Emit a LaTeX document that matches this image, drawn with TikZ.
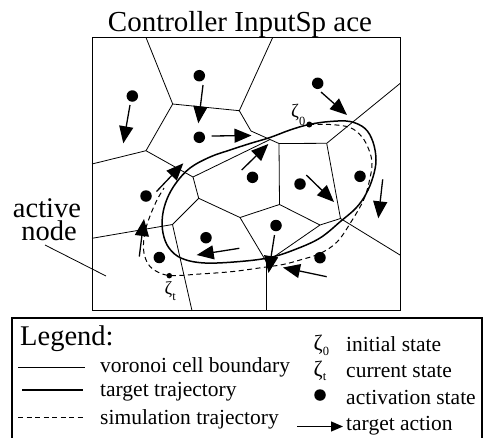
\documentclass[tikz,border=0pt]{standalone}
\usepackage{fontspec}
\setmainfont{Liberation Serif}
\usetikzlibrary{arrows.meta}

\tikzset{
  cell/.style={line width=0.8pt},
  frame/.style={line width=1pt},
  traj/.style={line width=1.5pt},
  simtraj/.style={line width=1pt, dash pattern=on 5pt off 3.5pt},
  act/.style={line width=1.3pt, -{Triangle[length=17pt,width=14pt]}},
  legact/.style={line width=1.2pt, -{Triangle[length=12pt,width=10pt]}},
  state/.style={circle, fill=black, inner sep=0pt, minimum size=11.5pt},
  zdot/.style={circle, fill=black, inner sep=0pt, minimum size=6pt},
  big/.style={inner sep=0pt, anchor=base, font=\fontsize{28.5}{28.5}\selectfont},
  small/.style={inner sep=0pt, anchor=base west, font=\fontsize{21.5}{24}\selectfont},
}

\begin{document}
\begin{tikzpicture}[x=1pt,y=-1pt]
\useasboundingbox (0,0) rectangle (484,437);

% title
\node[inner sep=0pt, anchor=base, font=\fontsize{29}{29}\selectfont] (title) at (240,31.7) {Controller InputSp ace};

% frame of the input space
\draw[frame] (92,37.5) rectangle (400,310.7);

% voronoi vertices
\coordinate (A) at (146,37.5);
\coordinate (B) at (172.7,104);
\coordinate (C) at (239.3,110.7);
\coordinate (D) at (272.7,37.5);
\coordinate (E) at (146,150.7);
\coordinate (F) at (92,164);
\coordinate (G) at (251,131);
\coordinate (W) at (270,139.5);
\coordinate (H) at (279,143.5);
\coordinate (I) at (326.7,143.3);
\coordinate (J) at (400,83.5);
\coordinate (K) at (193,177);
\coordinate (L) at (198.7,198.3);
\coordinate (M) at (240,217.5);
\coordinate (N) at (279.5,204.5);
\coordinate (O) at (320,225);
\coordinate (P) at (340.5,218.5);
\coordinate (Q) at (400,255);
\coordinate (R) at (172.5,224.5);
\coordinate (S) at (92,238.3);
\coordinate (T) at (192,310.7);
\coordinate (U) at (266.5,262);
\coordinate (V) at (266.5,310.7);

% voronoi cell boundaries
\draw[cell] (A) -- (B) -- (C) -- (D);
\draw[cell] (B) -- (E) -- (F);
\draw[cell] (E) -- (K) -- (W);
\draw[cell] (C) -- (G) -- (H) -- (I) -- (J);
\draw[cell] (H) -- (N);
\draw[cell] (I) -- (P) -- (Q);
\draw[cell] (K) -- (L) -- (M) -- (N) -- (O) -- (P);
\draw[cell] (L) -- (R) -- (S);
\draw[cell] (R) -- (T);
\draw[cell] (M) -- (U) -- (V);
\draw[cell] (O) -- (U);

% target trajectory (closed loop)
\draw[traj] plot[smooth cycle, tension=0.6] coordinates {
  (309,124.5) (330,121.5) (350,121.5) (365,128.5) (373,142) (376,160)
  (373,177) (366,194) (356,208) (341,221) (320,238) (295,249.5)
  (270,257.5) (240,261.5) (205,263) (182,258.5) (169,248) (163,233)
  (162.5,216) (167,199) (176,183) (190,168) (210,157) (230,150)
  (250,143.5) (270,137.5) (290,130)};

% simulation trajectory
\draw[simtraj] plot[smooth, tension=0.6] coordinates {
  (309,124.5) (330,124.5) (350,127.5) (362,137) (369,150) (372,163)
  (370,178) (364,199) (351,222) (337,242) (320,253.5) (300,260)
  (283,264.5) (266,267) (233,271.5) (200,274) (170,275.5) (155,270.5)
  (147,262) (143.5,249) (145,232) (150,216) (157,200) (164,188)};

% activation states
\node[state] (s1) at (199.3,75.7) {};
\node[state] (s2) at (132.3,96) {};
\node[state] (s3) at (199.3,137.3) {};
\node[state] (s4) at (317.7,83.3) {};
\node[state] (s5) at (252.5,177.3) {};
\node[state] (s6) at (300,184) {};
\node[state] (s7) at (360,176.3) {};
\node[state] (s8) at (146,196) {};
\node[state] (s9) at (206,237.7) {};
\node[state] (s10) at (276,225.5) {};
\node[state] (s11) at (159.3,257.5) {};
\node[state] (s12) at (320,257.7) {};

% target actions
\coordinate (a1s) at (203,85);      \coordinate (a1e) at (198.3,123.3);
\coordinate (a2s) at (130,105);     \coordinate (a2e) at (123.3,143.3);
\coordinate (a3s) at (211.7,136);   \coordinate (a3e) at (251.5,135.5);
\coordinate (a4s) at (241.7,170);   \coordinate (a4e) at (268.3,144);
\coordinate (a5s) at (156.5,191.5); \coordinate (a5e) at (183.3,163.3);
\coordinate (a6s) at (321,92);      \coordinate (a6e) at (347,115);
\coordinate (a7s) at (306.3,175);   \coordinate (a7e) at (334,202);
\coordinate (a8s) at (382.7,179.3); \coordinate (a8e) at (378.3,218.3);
\coordinate (a9s) at (274.5,235);   \coordinate (a9e) at (268.5,273);
\coordinate (a10s) at (326.7,276.7);\coordinate (a10e) at (283,267.5);
\coordinate (a11s) at (239.3,248.3);\coordinate (a11e) at (196.7,255);
\coordinate (a12s) at (139.3,256.5);\coordinate (a12e) at (144,219);
\foreach \k in {1,...,12} \draw[act] (a\k s) -- (a\k e);

% initial and current state
\node[zdot] (z0) at (309.3,124.5) {};
\node[zdot, minimum size=5.5pt] (zt) at (169.3,275.7) {};
\node[inner sep=0pt, anchor=base west, font=\fontsize{19}{19}\selectfont] (z0lbl) at (291,117.5)
  {ζ\raisebox{-7.5pt}{\fontsize{12.5}{12.5}\selectfont 0}};
\node[inner sep=0pt, anchor=base west, font=\fontsize{18.5}{18.5}\selectfont] (ztlbl) at (164.5,294.5)
  {ζ\raisebox{-5.5pt}{\fontsize{12.5}{12.5}\selectfont t}};

% active node label with pointer
\node[big] (actlbl) at (47,217) {active};
\node[big] (nodelbl) at (49,240) {node};
\coordinate (actstart) at (45,245);
\coordinate (actend) at (106,276);
\draw[cell] (actstart) -- (actend);

% legend
\draw[line width=1.3pt] (12,440) -- (12,318) -- (482,318) -- (482,440);
\node[big, anchor=base west] (leg) at (20,345) {Legend:};

\draw[cell] (18,367) -- (85,367);
\node[small] (l1) at (100,372.5) {voronoi cell boundary};
\draw[traj, line width=1.3pt] (22,390) -- (83,390);
\node[small] (l2) at (100,396) {target trajectory};
\draw[simtraj, line width=0.9pt] (18,417) -- (85,417);
\node[small] (l3) at (100,424) {simulation trajectory};

\node[inner sep=0pt, anchor=base west, font=\fontsize{22}{22}\selectfont] (lz0) at (313.5,350)
  {ζ\raisebox{-5pt}{\fontsize{12.5}{12.5}\selectfont 0}};
\node[small] (r1) at (346,351.7) {initial state};
\node[inner sep=0pt, anchor=base west, font=\fontsize{22}{22}\selectfont] (lzt) at (313.5,376)
  {ζ\raisebox{-4pt}{\fontsize{12.5}{12.5}\selectfont t}};
\node[small] (r2) at (346,377) {current state};
\node[state] (ldot) at (320,395) {};
\node[small] (r3) at (346,404) {activation state};
\coordinate (las) at (297,426.5);
\coordinate (lae) at (343,426.5);
\draw[legact] (las) -- (lae);
\node[small] (r4) at (346,430) {target action};
\end{tikzpicture}
\end{document}
